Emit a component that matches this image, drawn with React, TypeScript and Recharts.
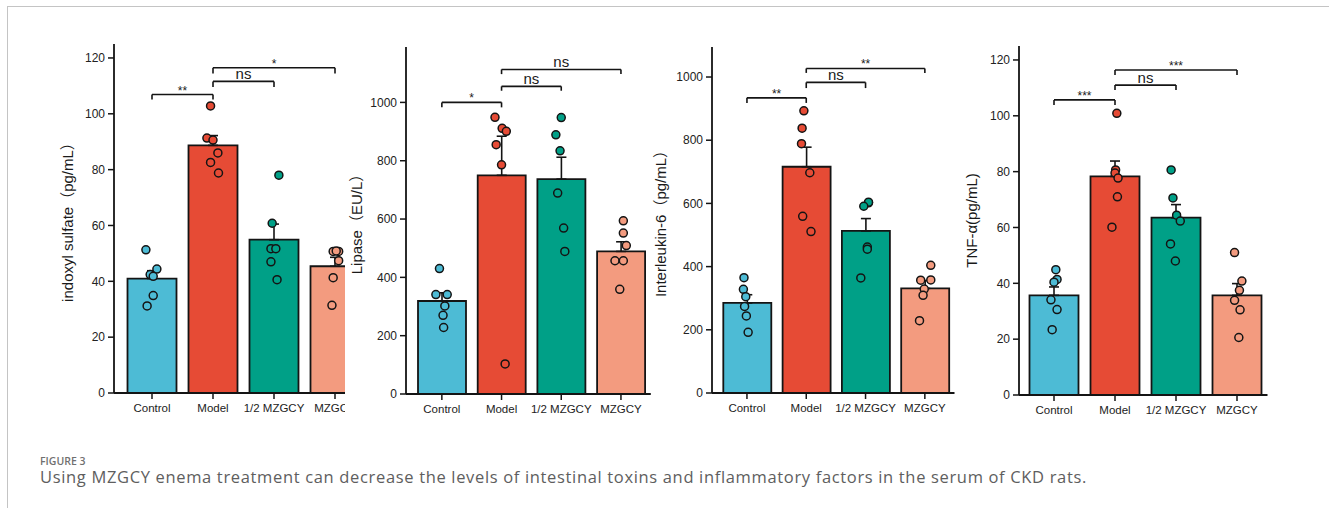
import React from 'react';
import { ComposedChart, Bar, Cell, ErrorBar, Scatter, XAxis, YAxis, ReferenceLine } from 'recharts';

const categories = ['Control', 'Model', '1/2 MZGCY', 'MZGCY'];

// Panel A: indoxyl sulfate (pg/mL)
const indoxylMean = [41.0, 88.7, 54.9, 45.4];
const indoxylSem = [2.8, 3.5, 5.6, 3.2];
const indoxylDots = [
  [51.3, 42.4, 44.4, 41.8, 34.9, 31.2],
  [102.8, 91.3, 90.6, 86.0, 82.6, 78.8],
  [78.0, 60.8, 51.7, 51.7, 47.0, 40.6],
  [50.7, 50.7, 50.9, 47.4, 41.3, 31.4],
];
const indoxylJitter = [
  [-0.1, -0.03, 0.08, 0.02, 0.02, -0.08],
  [-0.04, -0.1, 0, 0.08, -0.04, 0.09],
  [0.08, -0.03, -0.05, 0.03, -0.05, 0.05],
  [-0.03, 0.06, 0.02, 0.06, -0.03, -0.05],
];
const indoxylBrackets = [
  { a: 0, b: 1, top: 106.9, end: 105.1, label: '**' },
  { a: 1, b: 2, top: 111.6, end: 109.6, label: 'ns' },
  { a: 1, b: 3, top: 116.5, end: 114.4, label: '*' },
];
const indoxylTicks = [0, 20, 40, 60, 80, 100, 120];

// Panel B: Lipase (EU/L)
const lipaseMean = [319, 750, 737, 489];
const lipaseSem = [28, 134, 75, 33];
const lipaseDots = [
  [430, 341, 341, 302, 270, 228],
  [949, 911, 901, 855, 786, 103],
  [948, 889, 834, 689, 569, 489],
  [594, 552, 509, 457, 457, 359],
];
const lipaseJitter = [
  [-0.04, -0.1, 0.09, 0.05, 0.02, 0.03],
  [-0.11, 0.01, 0.08, -0.09, 0, 0.06],
  [0, -0.09, -0.02, -0.06, 0.04, 0.06],
  [0.04, 0.04, 0.09, -0.1, 0.04, -0.02],
];
const lipaseBrackets = [
  { a: 0, b: 1, top: 1000, end: 983, label: '*' },
  { a: 1, b: 2, top: 1055, end: 1040, label: 'ns' },
  { a: 1, b: 3, top: 1113, end: 1097, label: 'ns' },
];
const lipaseTicks = [0, 200, 400, 600, 800, 1000];

// Panel C: Interleukin-6 (pg/mL)
const il6Mean = [285, 716, 513, 331];
const il6Sem = [26, 62, 39, 25];
const il6Dots = [
  [365, 328, 305, 274, 244, 192],
  [893, 838, 789, 697, 559, 511],
  [602, 604, 591, 462, 455, 364],
  [404, 357, 358, 329, 309, 229],
];
const il6Jitter = [
  [-0.05, -0.06, -0.02, -0.04, -0.01, 0.02],
  [-0.04, -0.07, -0.08, 0.06, -0.06, 0.08],
  [0.05, 0.05, -0.03, 0.03, 0.03, -0.08],
  [0.1, -0.07, 0.1, -0.01, -0.03, -0.09],
];
const il6Brackets = [
  { a: 0, b: 1, top: 934, end: 918, label: '**' },
  { a: 1, b: 2, top: 983, end: 965, label: 'ns' },
  { a: 1, b: 3, top: 1027, end: 1013, label: '**' },
];
const il6Ticks = [0, 200, 400, 600, 800, 1000];

// Panel D: TNF-α (pg/mL)
const tnfMean = [35.7, 78.3, 63.5, 35.7];
const tnfSem = [3.0, 5.5, 4.7, 4.2];
const tnfDots = [
  [44.9, 41.4, 40.4, 34.1, 30.6, 23.4],
  [100.9, 80.6, 79.5, 77.7, 71.0, 60.1],
  [80.6, 70.6, 64.4, 62.3, 54.1, 48.0],
  [51.0, 40.8, 37.5, 33.9, 30.5, 20.6],
];
const tnfJitter = [
  [0.03, 0.05, 0, -0.05, 0.05, -0.03],
  [0.03, 0.01, 0, 0.05, 0.04, -0.05],
  [-0.08, -0.05, 0.01, 0.07, -0.09, -0.01],
  [-0.04, 0.08, 0.04, -0.04, 0.05, 0.03],
];
const tnfBrackets = [
  { a: 0, b: 1, top: 105.7, end: 103.9, label: '***' },
  { a: 1, b: 2, top: 111, end: 109.2, label: 'ns' },
  { a: 1, b: 3, top: 116.4, end: 114.6, label: '***' },
];
const tnfTicks = [0, 20, 40, 60, 80, 100, 120];

const COLORS = ['#4DBBD5', '#E64B35', '#00A087', '#F39B7F'];
const INK = '#141414';
const FONT = '"Liberation Sans", Arial, "Noto Sans CJK SC", sans-serif';

type Bracket = { a: number; b: number; top: number; end: number; label: string };

type PanelProps = {
  mean: number[];
  sem: number[];
  dots: number[][];
  jitter: number[][];
  brackets: Bracket[];
  ticks: number[];
  yMax: number;
  yLabel: string;
  left: number;
  width: number;
  margin: { top: number; right: number; bottom: number; left: number };
  pad: number;
  barSize: number;
  labelOffset: number;
  labelShift?: number;
  clipWidth?: number;
};

const Dot = (color: string) => (p: any) => {
  if (p.cx == null || p.cy == null) return <g />;
  return <circle cx={p.cx} cy={p.cy} r={4} fill={color} stroke={INK} strokeWidth={1.5} />;
};

function Panel(props: PanelProps) {
  const { mean, sem, dots, jitter, brackets, ticks, yMax, yLabel, left, width, margin, pad, barSize, labelOffset, labelShift, clipWidth } = props;
  const barData = categories.map((c, i) => ({ cat: c, mean: mean[i], err: [0, sem[i]] }));
  const groups = dots.map((vals, g) => vals.map((v, k) => ({ x: g + jitter[g][k], y: v })));
  return (
    <div style={{ position: 'absolute', left, top: 0, width: clipWidth ?? width, height: 440, overflow: 'hidden' }}>
      <ComposedChart width={width} height={440} data={barData} margin={margin}>
        <XAxis
          xAxisId="cat"
          dataKey="cat"
          type="category"
          padding={{ left: pad, right: 0 }}
          interval={0}
          tickSize={6}
          tickMargin={5}
          height={30}
          axisLine={{ stroke: INK, strokeWidth: 1.8 }}
          tickLine={{ stroke: INK, strokeWidth: 1.5 }}
          tick={{ fill: '#222', fontSize: 11.5, fontFamily: FONT }}
        />
        <XAxis xAxisId="num" dataKey="x" type="number" domain={[-0.5, 3.5]} padding={{ left: pad, right: 0 }} hide allowDataOverflow />
        <YAxis
          type="number"
          domain={[0, yMax]}
          ticks={ticks}
          interval={0}
          allowDataOverflow
          width={50}
          tickSize={6}
          tickMargin={3}
          axisLine={{ stroke: INK, strokeWidth: 1.8 }}
          tickLine={{ stroke: INK, strokeWidth: 1.5 }}
          tick={{ fill: '#222', fontSize: 12, fontFamily: FONT }}
          label={{
            value: yLabel,
            angle: -90,
            position: 'insideLeft',
            offset: labelOffset,
            dx: labelShift ?? 0,
            style: { textAnchor: 'middle', fontSize: 15, fontFamily: FONT, fill: '#1a1a1a' },
          }}
        />
        <Bar xAxisId="cat" dataKey="mean" barSize={barSize} stroke={INK} strokeWidth={1.8} isAnimationActive={false}>
          {barData.map((d, i) => (
            <Cell key={d.cat} fill={COLORS[i]} />
          ))}
          <ErrorBar dataKey="err" direction="y" width={5} stroke={INK} strokeWidth={1.6} />
        </Bar>
        {groups.map((g, i) => (
          <Scatter key={i} xAxisId="num" data={g} dataKey="y" shape={Dot(COLORS[i])} isAnimationActive={false} />
        ))}
        {brackets.map((b, i) => (
          <ReferenceLine
            key={'h' + i}
            xAxisId="num"
            ifOverflow="visible"
            segment={[{ x: b.a, y: b.top }, { x: b.b, y: b.top }]}
            stroke={INK}
            strokeWidth={1.6}
            label={{
              value: b.label,
              position: 'top',
              offset: b.label === 'ns' ? 2 : 0,
              fontSize: b.label === 'ns' ? 15 : 12,
              fill: '#1a1a1a',
              fontFamily: FONT,
            }}
          />
        ))}
        {brackets.map((b, i) => (
          <ReferenceLine
            key={'l' + i}
            xAxisId="num"
            ifOverflow="visible"
            segment={[{ x: b.a, y: b.top }, { x: b.a, y: b.end }]}
            stroke={INK}
            strokeWidth={1.6}
          />
        ))}
        {brackets.map((b, i) => (
          <ReferenceLine
            key={'r' + i}
            xAxisId="num"
            ifOverflow="visible"
            segment={[{ x: b.b, y: b.top }, { x: b.b, y: b.end }]}
            stroke={INK}
            strokeWidth={1.6}
          />
        ))}
      </ComposedChart>
    </div>
  );
}

export default function App() {
  return (
    <div style={{ position: 'absolute', left: 0, top: 0, width: 1329, height: 508, background: '#fff', overflow: 'hidden' }}>
      <div
        style={{
          position: 'absolute',
          left: 7,
          top: 6,
          width: 1330,
          height: 510,
          borderLeft: '1px solid #c4c4c4',
          borderTop: '1px solid #c4c4c4',
        }}
      />
      <Panel
        mean={indoxylMean}
        sem={indoxylSem}
        dots={indoxylDots}
        jitter={indoxylJitter}
        brackets={indoxylBrackets}
        ticks={indoxylTicks}
        yMax={125}
        yLabel="indoxyl sulfate（pg/mL）"
        left={0}
        width={380}
        clipWidth={345}
        margin={{ top: 44, right: 14.5, bottom: 17, left: 64 }}
        pad={7.5}
        barSize={49}
        labelOffset={8}
        labelShift={-4}
      />
      <Panel
        mean={lipaseMean}
        sem={lipaseSem}
        dots={lipaseDots}
        jitter={lipaseJitter}
        brackets={lipaseBrackets}
        ticks={lipaseTicks}
        yMax={1190}
        yLabel="Lipase（EU/L）"
        left={345}
        width={320}
        margin={{ top: 47, right: 14.2, bottom: 16, left: 11 }}
        pad={6}
        barSize={48}
        labelOffset={1}
      />
      <Panel
        mean={il6Mean}
        sem={il6Sem}
        dots={il6Dots}
        jitter={il6Jitter}
        brackets={il6Brackets}
        ticks={il6Ticks}
        yMax={1095}
        yLabel="Interleukin-6（pg/mL）"
        left={650}
        width={320}
        margin={{ top: 47, right: 15.5, bottom: 17, left: 12 }}
        pad={5.3}
        barSize={48}
        labelOffset={-1}
      />
      <Panel
        mean={tnfMean}
        sem={tnfSem}
        dots={tnfDots}
        jitter={tnfJitter}
        brackets={tnfBrackets}
        ticks={tnfTicks}
        yMax={125}
        yLabel="TNF-α(pg/mL)"
        left={960}
        width={330}
        margin={{ top: 46, right: 22.5, bottom: 15, left: 9 }}
        pad={4.5}
        barSize={49}
        labelOffset={3}
      />
      <div
        style={{
          position: 'absolute',
          left: 40,
          top: 456,
          fontFamily: '"Open Sans", "Noto Sans", sans-serif',
          fontSize: 10.5,
          fontWeight: 600,
          color: '#707070',
          lineHeight: '11px',
          whiteSpace: 'nowrap',
        }}
      >
        FIGURE 3
      </div>
      <div
        style={{
          position: 'absolute',
          left: 40,
          top: 468,
          fontFamily: '"Open Sans", "Noto Sans", sans-serif',
          fontSize: 16.5,
          letterSpacing: 0.66,
          fontWeight: 400,
          color: '#5e5e5e',
          lineHeight: '17px',
          whiteSpace: 'nowrap',
        }}
      >
        Using MZGCY enema treatment can decrease the levels of intestinal toxins and inflammatory factors in the serum of CKD rats.
      </div>
    </div>
  );
}
